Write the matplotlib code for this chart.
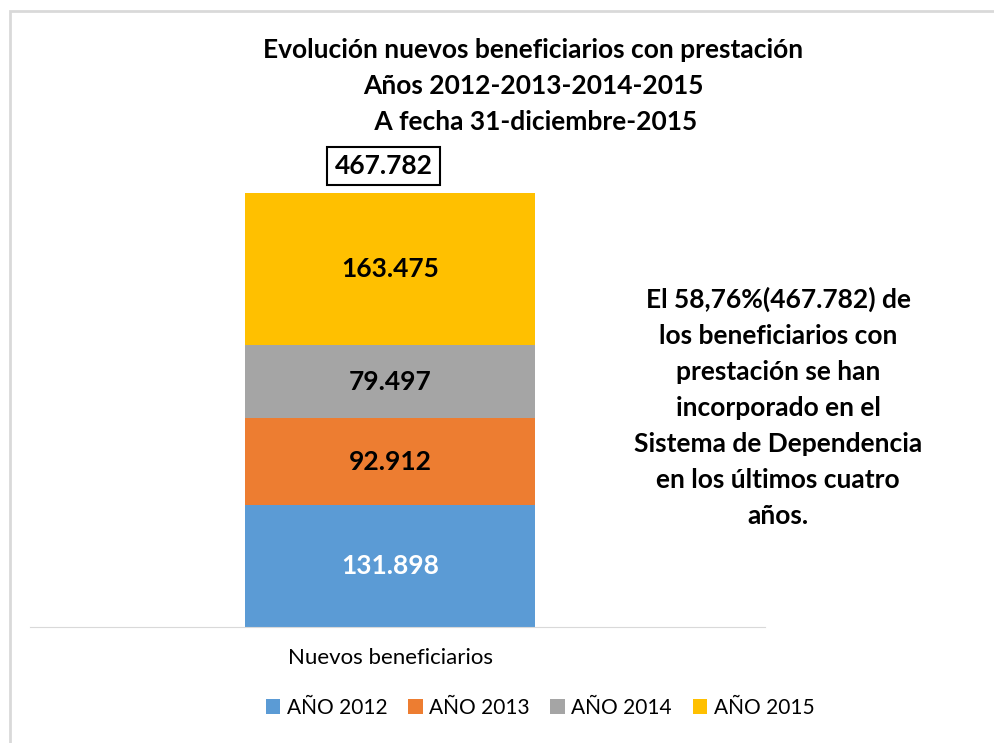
import matplotlib.pyplot as plt
from matplotlib.patches import Rectangle

plt.rcParams['font.family'] = ['Lato', 'DejaVu Sans']

category = "Nuevos beneficiarios"
years = ["AÑO 2012", "AÑO 2013", "AÑO 2014", "AÑO 2015"]
values = [131898, 92912, 79497, 163475]
labels = ["131.898", "92.912", "79.497", "163.475"]
total_label = "467.782"
colors = ["#5B9BD5", "#ED7D31", "#A5A5A5", "#FFC000"]
label_colors = ["white", "black", "black", "black"]

title = "Evolución nuevos beneficiarios con prestación\nAños 2012-2013-2014-2015\n A fecha 31-diciembre-2015"
note = ("El 58,76%(467.782) de\nlos beneficiarios con\nprestación se han\nincorporado en el\n"
        "Sistema de Dependencia\nen los últimos cuatro\naños.")

fig = plt.figure(figsize=(9.94, 7.43), dpi=100)
fig.patches.append(Rectangle((10 / 994, -0.1), 1.1, (743 - 11) / 743 + 0.1,
                             transform=fig.transFigure, fill=False,
                             edgecolor="#D9D9D9", linewidth=2))

ax = fig.add_axes([30 / 994, (743 - 627) / 743, 735 / 994, (627 - 150) / 743])

bottom = 0
for val, lab, col, lc, name in zip(values, labels, colors, label_colors, years):
    ax.bar(0, val, width=0.395, bottom=bottom, color=col, label=name)
    ax.text(0, bottom + val / 2, lab, ha="center", va="center",
            fontsize=19, fontweight="bold", color=lc)
    bottom += val

# total box sits a little left of the bar centre, like in Excel
ax.text(-0.009, bottom + 29000, total_label, ha="center", va="center",
        fontsize=19, fontweight="bold",
        bbox=dict(boxstyle="square,pad=0.28", facecolor="white", edgecolor="black", linewidth=1.5))

ax.set_xlim(-0.49, 0.51)
ax.set_ylim(0, (627 - 150) / 434 * sum(values))
ax.set_yticks([])
ax.set_xticks([])
for side in ["top", "left", "right"]:
    ax.spines[side].set_visible(False)
ax.spines["bottom"].set_color("#D9D9D9")

fig.text(391 / 994, 1 - 658 / 743, category, ha="center", va="center", fontsize=16)
fig.text(533 / 994, 1 - 86 / 743, title, ha="center", va="center",
         fontsize=19, fontweight="bold", linespacing=1.58)
fig.text(778 / 994, 1 - 407 / 743, note, ha="center", va="center",
         fontsize=19, fontweight="bold", linespacing=1.6)

fig.legend(loc="center", bbox_to_anchor=(540 / 994, 1 - 708 / 743), ncol=4,
           frameon=False, fontsize=15, handlelength=0.7, handleheight=0.7,
           handletextpad=0.3, columnspacing=1.0)

fig.savefig("out.png", dpi=100)
